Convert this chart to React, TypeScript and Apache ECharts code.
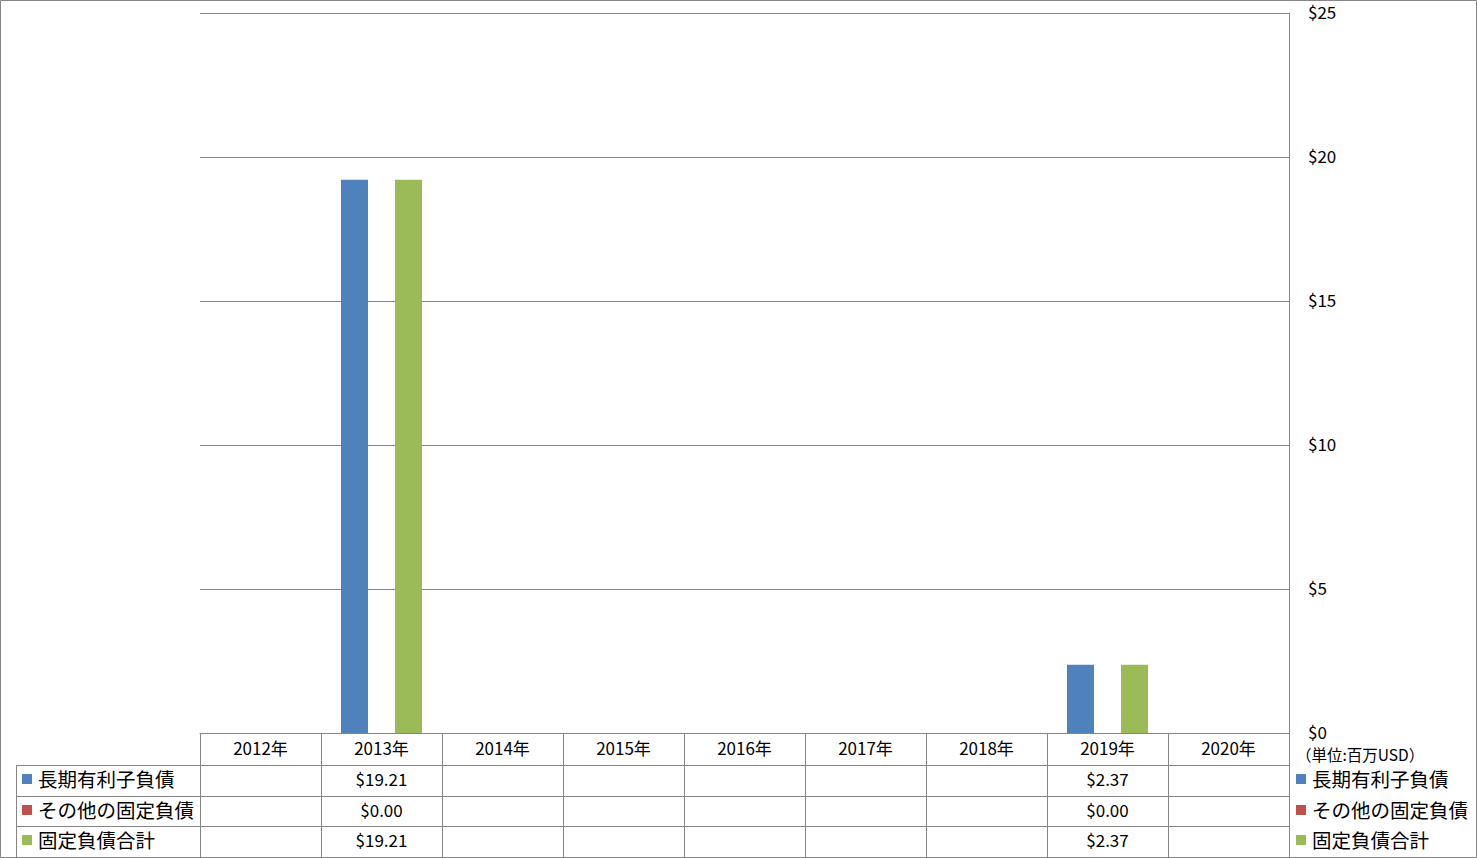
import React, { useEffect, useRef } from "react";
import * as echarts from "echarts";

const categories = ["2012年", "2013年", "2014年", "2015年", "2016年", "2017年", "2018年", "2019年", "2020年"];
const seriesNames = ["長期有利子負債", "その他の固定負債", "固定負債合計"];
const longTermDebt: (number | null)[] = [null, 19.21, null, null, null, null, null, 2.37, null];
const otherFixed: (number | null)[] = [null, 0, null, null, null, null, null, 0, null];
const totalFixed: (number | null)[] = [null, 19.21, null, null, null, null, null, 2.37, null];
const seriesColors = ["#4F81BD", "#C0504D", "#9BBB59"];
const yMin = 0;
const yMax = 25;
const yInterval = 5;
const unitLabel = "（単位:百万USD）";

const FONT = "'Noto Sans CJK JP', 'Noto Sans', sans-serif";
const GRAY = "#868686";

export default function App() {
  const ref = useRef<HTMLDivElement>(null);
  useEffect(() => {
    if (!ref.current) return;
    const chart = echarts.init(ref.current, undefined, { renderer: "svg" });
    const allSeries = [longTermDebt, otherFixed, totalFixed];
    const W = 1477;
    const H = 858;
    const gridLeft = 200;
    const gridRight = 1289;
    const gridTop = 13;
    const gridBottom = 733;
    const rowLines = [765, 796, 826, 857];
    const rowCenters = [779, 810, 840];
    const textCenters = [778.5, 809.5, 839.5];

    chart.setOption({
      animation: false,
      backgroundColor: "#ffffff",
      textStyle: { fontFamily: FONT },
      grid: { left: gridLeft, right: W - gridRight, top: gridTop, bottom: H - gridBottom, containLabel: false },
      xAxis: {
        type: "category",
        data: categories,
        boundaryGap: true,
        axisLine: { show: true, lineStyle: { color: GRAY, width: 1 } },
        axisTick: { show: true, length: 857 - gridBottom, alignWithLabel: false, lineStyle: { color: GRAY, width: 1 } },
        axisLabel: { margin: 6, fontSize: 17, color: "#000", fontFamily: FONT },
      },
      yAxis: {
        type: "value",
        position: "right",
        min: yMin,
        max: yMax,
        interval: yInterval,
        axisLine: { show: true, lineStyle: { color: GRAY, width: 1 } },
        axisTick: { show: false },
        splitLine: { show: true, lineStyle: { color: GRAY, width: 1 } },
        axisLabel: {
          margin: 19,
          fontSize: 17,
          color: "#000",
          fontFamily: FONT,
          verticalAlign: "bottom",
          lineHeight: 4,
          formatter: (v: number) => "$" + v,
        },
      },
      series: allSeries.map((d, i) => ({
        type: "bar",
        name: seriesNames[i],
        data: d,
        barGap: "0%",
        barCategoryGap: "33%",
        itemStyle: { color: seriesColors[i] },
      })),
    });

    const graphics: any[] = [];
    graphics.push({
      type: "rect",
      shape: { x: 0.5, y: 0.5, width: W - 1, height: H - 1 },
      style: { fill: "none", stroke: GRAY, lineWidth: 1 },
      silent: true,
    });
    rowLines.forEach((y) => {
      graphics.push({
        type: "line",
        shape: { x1: 16, y1: y + 0.5, x2: gridRight, y2: y + 0.5 },
        style: { stroke: GRAY, lineWidth: 1 },
        silent: true,
      });
    });
    graphics.push({
      type: "line",
      shape: { x1: 16.5, y1: rowLines[0], x2: 16.5, y2: 857 },
      style: { stroke: GRAY, lineWidth: 1 },
      silent: true,
    });
    seriesNames.forEach((name, i) => {
      const cy = rowCenters[i];
      const ty = textCenters[i];
      graphics.push({
        type: "rect",
        shape: { x: 22, y: cy - 5, width: 10, height: 10 },
        style: { fill: seriesColors[i] },
        silent: true,
      });
      graphics.push({
        type: "text",
        style: { text: name, x: 38, y: ty, font: `19.5px ${FONT}`, fill: "#000", align: "left", verticalAlign: "middle" },
        silent: true,
      });
      graphics.push({
        type: "rect",
        shape: { x: 1296, y: cy - 5, width: 10, height: 10 },
        style: { fill: seriesColors[i] },
        silent: true,
      });
      graphics.push({
        type: "text",
        style: { text: name, x: 1312, y: ty, font: `19.5px ${FONT}`, fill: "#000", align: "left", verticalAlign: "middle" },
        silent: true,
      });
    });
    graphics.push({
      type: "text",
      style: { text: unitLabel, x: 1296, y: 754, font: `15.5px ${FONT}`, fill: "#000", align: "left", verticalAlign: "middle" },
      silent: true,
    });
    allSeries.forEach((d, si) => {
      d.forEach((v, ci) => {
        if (v === null || v === undefined) return;
        const px = chart.convertToPixel({ xAxisIndex: 0 }, ci) as number;
        graphics.push({
          type: "text",
          style: {
            text: "$" + v.toFixed(2),
            x: px,
            y: textCenters[si],
            font: `17px ${FONT}`,
            fill: "#000",
            align: "center",
            verticalAlign: "middle",
          },
          silent: true,
        });
      });
    });
    chart.setOption({ graphic: { elements: graphics } });

    return () => chart.dispose();
  }, []);
  return <div ref={ref} style={{ position: "absolute", left: 0, top: 0, width: 1477, height: 858 }} />;
}
